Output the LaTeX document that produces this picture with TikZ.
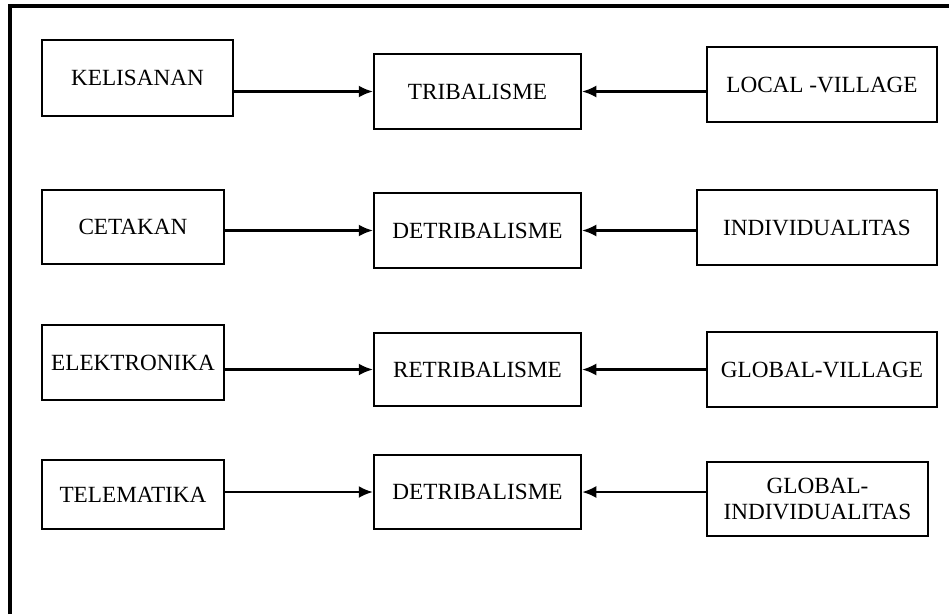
\documentclass[tikz,border=0pt]{standalone}
\usepackage{fontspec}
\setmainfont{Liberation Serif}
\usetikzlibrary{arrows.meta}

\tikzstyle{stage} = [draw=black, line width=1.7pt, rectangle, inner sep=0pt,
  align=center, font=\fontsize{16.5}{18}\selectfont]
\tikzstyle{flow} = [-{Latex[length=10pt,width=8.5pt]}, line width=1.5pt]

\begin{document}
\begin{tikzpicture}
        \useasboundingbox (0,0) rectangle (23.725,-15.35);
        \draw[line width=2.2pt] (0.25,-15.35) -- (0.25,-0.15) -- (23.725,-0.15);

        \node [stage, minimum width=4.775cm, minimum height=1.9cm]   (kelisanan)   at ( 3.4375, -1.95)   {KELISANAN};
        \node [stage, minimum width=5.175cm, minimum height=1.875cm] (tribal)      at (11.9375, -2.2875) {TRIBALISME};
        \node [stage, minimum width=5.75cm,  minimum height=1.875cm] (local)       at (20.55,   -2.1125) {LOCAL -VILLAGE};

        \node [stage, minimum width=4.55cm,  minimum height=1.85cm]  (cetakan)     at ( 3.325,  -5.675)  {CETAKAN};
        \node [stage, minimum width=5.175cm, minimum height=1.875cm] (detribal)    at (11.9375, -5.7625) {DETRIBALISME};
        \node [stage, minimum width=6.0cm,   minimum height=1.875cm] (individu)    at (20.425,  -5.6875) {INDIVIDUALITAS};

        \node [stage, minimum width=4.55cm,  minimum height=1.875cm] (elektronika) at ( 3.325,  -9.0625) {ELEKTRONIKA};
        \node [stage, minimum width=5.175cm, minimum height=1.825cm] (retribal)    at (11.9375, -9.2375) {RETRIBALISME};
        \node [stage, minimum width=5.75cm,  minimum height=1.875cm] (gvillage)    at (20.55,   -9.2375) {GLOBAL-VILLAGE};

        \node [stage, minimum width=4.55cm,  minimum height=1.725cm] (telematika)  at ( 3.325, -12.3625) {TELEMATIKA};
        \node [stage, minimum width=5.175cm, minimum height=1.85cm]  (detribaltwo) at (11.9375,-12.3)    {DETRIBALISME};
        \node [stage, minimum width=5.525cm, minimum height=1.85cm]  (gindividu)   at (20.4375,-12.475)  {GLOBAL-\\INDIVIDUALITAS};

        \draw[flow] (kelisanan.east |- tribal.west) -- (tribal.west);
        \draw[flow] (local.west |- tribal.east) -- (tribal.east);
        \draw[flow] (cetakan.east |- detribal.west) -- (detribal.west);
        \draw[flow] (individu.west |- detribal.east) -- (detribal.east);
        \draw[flow] (elektronika.east |- retribal.west) -- (retribal.west);
        \draw[flow] (gvillage.west |- retribal.east) -- (retribal.east);
        \draw[flow] (telematika.east |- detribaltwo.west) -- (detribaltwo.west);
        \draw[flow] (gindividu.west |- detribaltwo.east) -- (detribaltwo.east);
      \end{tikzpicture}
\end{document}
